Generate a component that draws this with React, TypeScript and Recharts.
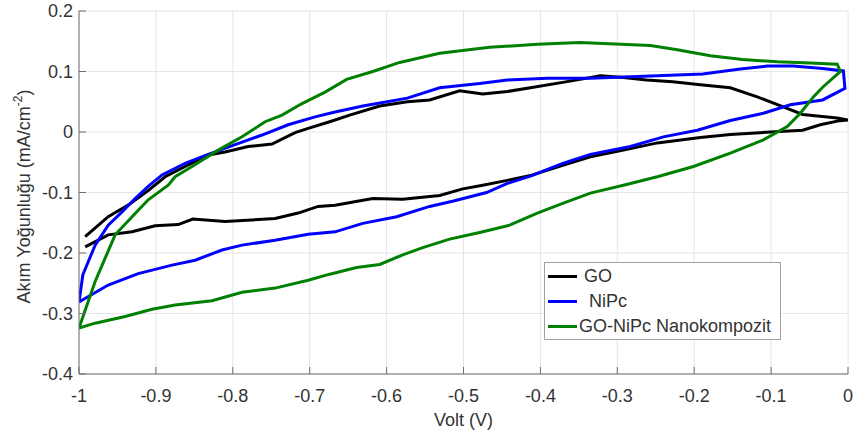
import { LineChart, Line, XAxis, YAxis, CartesianGrid, Legend } from 'recharts';

const FONT = '"Liberation Sans", Arial, sans-serif';
const TEXT = '#333333';
const AXIS = '#6e6e6e';

const xTicks = [-1, -0.9, -0.8, -0.7, -0.6, -0.5, -0.4, -0.3, -0.2, -0.1, 0];
const yTicks = [-0.4, -0.3, -0.2, -0.1, 0, 0.1, 0.2];

const seriesNames = ['GO', 'NiPc', 'GO-NiPc Nanokompozit'];

// GO: lower branch left -> right, then upper branch back to the left
const goVolt = [
  -0.992, -0.962, -0.931, -0.901, -0.871, -0.852, -0.81, -0.745, -0.715, -0.689, -0.667, -0.618,
  -0.579, -0.531, -0.501, -0.475, -0.443, -0.413, -0.371, -0.335, -0.292, -0.248, -0.192, -0.153,
  -0.101, -0.059, -0.036, -0.014, 0,
  -0.014, -0.059, -0.085, -0.118, -0.153, -0.192, -0.228, -0.262, -0.292, -0.322, -0.371, -0.413,
  -0.443, -0.475, -0.505, -0.544, -0.573, -0.609, -0.648, -0.674, -0.702, -0.719, -0.749, -0.78,
  -0.81, -0.832, -0.862, -0.888, -0.91, -0.935, -0.962, -0.992,
];
const goCurrent = [
  -0.19, -0.17, -0.165, -0.155, -0.153, -0.144, -0.148, -0.143, -0.134, -0.123, -0.121, -0.11,
  -0.111, -0.105, -0.094, -0.088, -0.08, -0.072, -0.055, -0.041, -0.03, -0.018, -0.009, -0.004,
  0.0, 0.003, 0.012, 0.018, 0.02,
  0.023, 0.029, 0.042, 0.058, 0.073, 0.078, 0.083, 0.086, 0.09, 0.093, 0.082, 0.073,
  0.067, 0.063, 0.068, 0.053, 0.05, 0.043, 0.028, 0.017, 0.006, -0.001, -0.02, -0.024,
  -0.033, -0.038, -0.057, -0.074, -0.097, -0.12, -0.14, -0.173,
];

// NiPc
const nipcVolt = [
  -1, -0.995, -0.979, -0.962, -0.944, -0.927, -0.91, -0.892, -0.862, -0.832, -0.797, -0.762,
  -0.728, -0.693, -0.667, -0.631, -0.573, -0.531, -0.479, -0.443, -0.391, -0.335, -0.248, -0.189,
  -0.14, -0.105, -0.071, -0.033, -0.006, -0.004, -0.033, -0.075, -0.11, -0.153, -0.196, -0.24,
  -0.283, -0.335, -0.371, -0.413, -0.443, -0.47, -0.513, -0.544, -0.587, -0.631, -0.667, -0.702,
  -0.745, -0.788, -0.814, -0.849, -0.879, -0.923, -0.962, -1,
];
const nipcCurrent = [
  -0.281, -0.236, -0.187, -0.154, -0.132, -0.11, -0.09, -0.071, -0.052, -0.037, -0.021, -0.005,
  0.012, 0.025, 0.033, 0.043, 0.056, 0.073, 0.08, 0.086, 0.089, 0.089, 0.093, 0.096,
  0.104, 0.109, 0.109, 0.105, 0.101, 0.072, 0.053, 0.045, 0.031, 0.019, 0.003, -0.008,
  -0.024, -0.037, -0.052, -0.073, -0.085, -0.1, -0.114, -0.123, -0.14, -0.151, -0.165, -0.169,
  -0.179, -0.187, -0.195, -0.212, -0.22, -0.234, -0.253, -0.281,
];

// GO-NiPc Nanokompozit
const compVolt = [
  -1, -0.979, -0.953, -0.931, -0.91, -0.884, -0.875, -0.853, -0.819, -0.788, -0.758, -0.736,
  -0.71, -0.68, -0.652, -0.618, -0.583, -0.531, -0.466, -0.404, -0.349, -0.257, -0.222, -0.179,
  -0.137, -0.092, -0.049, -0.014, -0.01, -0.033, -0.045, -0.062, -0.079, -0.11, -0.153, -0.201,
  -0.248, -0.292, -0.335, -0.371, -0.404, -0.44, -0.479, -0.518, -0.553, -0.579, -0.609, -0.639,
  -0.674, -0.702, -0.745, -0.788, -0.827, -0.875, -0.905, -0.94, -0.979, -1,
];
const compCurrent = [
  -0.324, -0.247, -0.17, -0.14, -0.112, -0.088, -0.074, -0.057, -0.03, -0.008, 0.017, 0.028,
  0.047, 0.066, 0.087, 0.1, 0.115, 0.13, 0.14, 0.145, 0.148, 0.143, 0.136, 0.126,
  0.12, 0.116, 0.114, 0.112, 0.1, 0.074, 0.058, 0.031, 0.009, -0.013, -0.035, -0.057,
  -0.074, -0.088, -0.101, -0.118, -0.134, -0.154, -0.166, -0.177, -0.191, -0.203, -0.219, -0.224,
  -0.235, -0.245, -0.258, -0.265, -0.279, -0.286, -0.293, -0.305, -0.316, -0.324,
];

const toPoints = (volt: number[], cur: number[]) => volt.map((v, k) => ({ v, i: cur[k] }));

const goData = toPoints(goVolt, goCurrent);
const nipcData = toPoints(nipcVolt, nipcCurrent);
const compData = toPoints(compVolt, compCurrent);

function XTick({ x, y, payload }: any) {
  return (
    <g>
      <line x1={x} x2={x} y1={y - 15} y2={y - 22} stroke={AXIS} />
      <text x={x} y={y} dy={13} textAnchor="middle" fill={TEXT} fontSize={18} fontFamily={FONT}>
        {payload.value}
      </text>
    </g>
  );
}

function YTick({ x, y, payload }: any) {
  return (
    <g>
      <line x1={x + 6} x2={x + 13} y1={y} y2={y} stroke={AXIS} />
      <text x={x} y={y} dy={6} textAnchor="end" fill={TEXT} fontSize={18} fontFamily={FONT}>
        {payload.value}
      </text>
    </g>
  );
}

function YLabel(props: any) {
  const vb = props.viewBox || { x: 0, y: 11, width: 79, height: 363 };
  const cx = 30;
  const cy = vb.y + vb.height / 2 + 4;
  return (
    <text
      x={cx}
      y={cy}
      transform={`rotate(-90, ${cx}, ${cy})`}
      textAnchor="middle"
      fill={TEXT}
      fontSize={18}
      fontFamily={FONT}
    >
      Akım Yoğunluğu (mA/cm
      <tspan fontSize={12} dy={-8}>-2</tspan>
      <tspan dy={8}>)</tspan>
    </text>
  );
}

// small per-row text nudges, as in the original legend
const legendShift = [4, 9, -1];

function LegendBox({ payload }: any) {
  const items = [...(payload || [])].sort(
    (a: any, b: any) => seriesNames.indexOf(a.value) - seriesNames.indexOf(b.value),
  );
  return (
    <div
      style={{
        width: 235,
        height: 75,
        border: '1px solid #a0a0a0',
        background: '#fff',
        fontFamily: FONT,
        fontSize: 18,
        color: TEXT,
        paddingTop: 1,
      }}
    >
      {items.map((e: any, k: number) => (
        <div key={e.value} style={{ display: 'flex', alignItems: 'center', height: 25 }}>
          <div style={{ width: 29, height: 3, background: e.color, marginLeft: 3 }} />
          <span style={{ marginLeft: 3 + legendShift[k], whiteSpace: 'nowrap' }}>{e.value}</span>
        </div>
      ))}
    </div>
  );
}

export default function App() {
  return (
    <div style={{ position: 'absolute', left: 0, top: 0, background: '#fff' }}>
      <LineChart width={858} height={439} margin={{ top: 11, right: 10, bottom: 0, left: 0 }}>
        <CartesianGrid stroke="#e6e6e6" />
        <XAxis
          type="number"
          dataKey="v"
          domain={[-1, 0]}
          ticks={xTicks}
          allowDataOverflow
          height={65}
          tickSize={0}
          tickMargin={15}
          tickLine={false}
          axisLine={{ stroke: AXIS }}
          tick={<XTick />}
          label={{
            value: 'Volt (V)',
            position: 'insideBottom',
            offset: 13,
            fill: TEXT,
            fontSize: 18,
            fontFamily: FONT,
          }}
        />
        <YAxis
          type="number"
          domain={[-0.4, 0.2]}
          ticks={yTicks}
          allowDataOverflow
          width={79}
          tickSize={0}
          tickMargin={6}
          tickLine={false}
          axisLine={{ stroke: AXIS }}
          tick={<YTick />}
          label={<YLabel />}
        />
        <Legend
          layout="vertical"
          align="center"
          verticalAlign="middle"
          wrapperStyle={{ left: 544, top: 262, width: 237, height: 77 }}
          content={<LegendBox />}
        />
        <Line data={goData} dataKey="i" name={seriesNames[0]} type="linear" stroke="#000000" strokeWidth={3} dot={false} activeDot={false} isAnimationActive={false} />
        <Line data={nipcData} dataKey="i" name={seriesNames[1]} type="linear" stroke="#0000ff" strokeWidth={3} dot={false} activeDot={false} isAnimationActive={false} />
        <Line data={compData} dataKey="i" name={seriesNames[2]} type="linear" stroke="#008000" strokeWidth={3} dot={false} activeDot={false} isAnimationActive={false} />
      </LineChart>
    </div>
  );
}
